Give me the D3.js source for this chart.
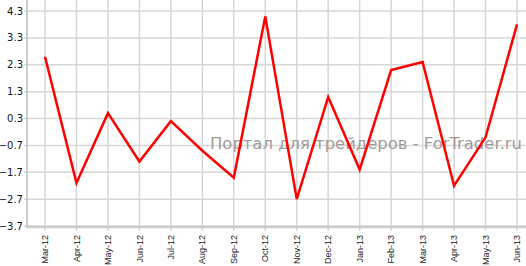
<!DOCTYPE html>
<html>
<head>
<meta charset="utf-8">
<script src="https://cdn.jsdelivr.net/npm/d3@7"></script>
<style>
  body { margin: 0; background: #fff; }
  svg { display: block; }
</style>
</head>
<body>
<svg id="chart" width="526" height="266"></svg>
<script>
// data
var months = ["Mar-12","Apr-12","May-12","Jun-12","Jul-12","Aug-12","Sep-12","Oct-12",
              "Nov-12","Dec-12","Jan-13","Feb-13","Mar-13","Apr-13","May-13","Jun-13"];
var values = [2.6, -2.1, 0.5, -1.3, 0.2, -0.9, -1.9, 4.1,
              -2.7, 1.1, -1.6, 2.1, 2.4, -2.2, -0.4, 3.8];
var yTicks = [-3.7, -2.7, -1.7, -0.7, 0.3, 1.3, 2.3, 3.3, 4.3];
var watermark = "Портал для трейдеров - ForTrader.ru";

var svg = d3.select("#chart");
var W = 526, H = 266;
var left = 27, bottom = 227;

var x = d3.scalePoint().domain(months).range([45, 517]);
var y = d3.scaleLinear().domain([-3.7, 4.3]).range([226, 11]);

// grid
svg.append("g").selectAll("line").data(yTicks).enter().append("line")
	.attr("x1", left - 3).attr("x2", W)
	.attr("y1", function(d){ return y(d); }).attr("y2", function(d){ return y(d); })
	.style("stroke", "#d6d6d6").style("stroke-width", 1.5);

svg.append("g").selectAll("line").data(months).enter().append("line")
	.attr("x1", function(d){ return x(d); }).attr("x2", function(d){ return x(d); })
	.attr("y1", 0).attr("y2", bottom + 4)
	.style("stroke", "#d6d6d6").style("stroke-width", 1.5);

// axes lines
svg.append("line").attr("x1", left).attr("x2", left).attr("y1", 0).attr("y2", bottom + 1)
	.style("stroke", "#cccccc").style("stroke-width", 2);
svg.append("line").attr("x1", left).attr("x2", W).attr("y1", bottom).attr("y2", bottom)
	.style("stroke", "#cccccc").style("stroke-width", 2.5);

// y labels
svg.append("g").selectAll("text").data(yTicks).enter().append("text")
	.attr("x", 23).attr("y", function(d){ return y(d); }).attr("dy", "0.36em")
	.attr("text-anchor", "end")
	.style("font-family", "Verdana, 'DejaVu Sans', sans-serif").style("font-size", "10px")
	.style("fill", "#111122")
	.text(function(d){ return d3.format(".1f")(d); });

// x labels
svg.append("g").selectAll("text").data(months).enter().append("text")
	.attr("transform", function(d){ return "translate(" + x(d) + "," + (bottom + 8) + ") rotate(-90)"; })
	.attr("dy", "0.35em")
	.attr("text-anchor", "end")
	.style("font-family", "Arial, 'Liberation Sans', sans-serif").style("font-size", "9px")
	.style("fill", "#222")
	.text(function(d){ return d; });

// watermark
svg.append("text")
	.attr("x", 210).attr("y", 149)
	.attr("textLength", 312).attr("lengthAdjust", "spacingAndGlyphs")
	.style("font-family", "'DejaVu Sans', Verdana, sans-serif").style("font-size", "16px")
	.style("fill", "#a39a9a")
	.text(watermark);

// line
var line = d3.line()
	.x(function(d, i){ return x(months[i]); })
	.y(function(d){ return y(d); });

svg.append("path").datum(values)
	.attr("d", line)
	.style("fill", "none").style("stroke", "#ff0000").style("stroke-width", 2.5)
	.style("stroke-linejoin", "miter");
</script>
</body>
</html>
